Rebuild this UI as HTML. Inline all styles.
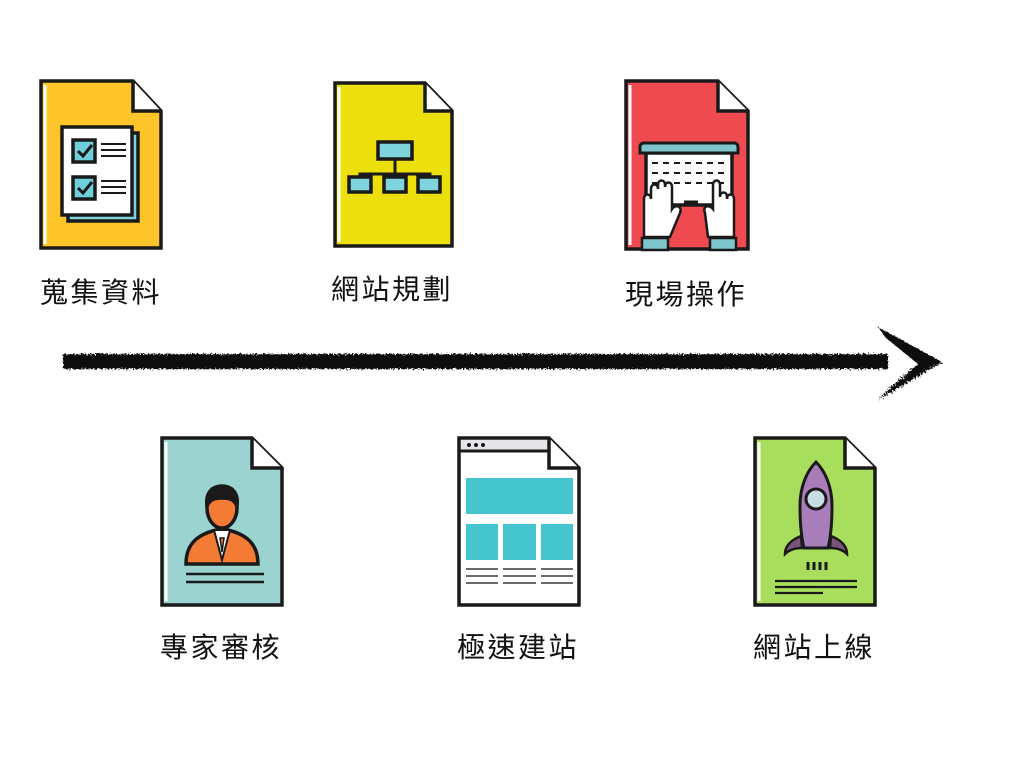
<!DOCTYPE html>
<html><head><meta charset="utf-8"><style>
html,body{margin:0;padding:0;background:#fff;}
svg{display:block}
text{font-family:"Liberation Sans","Noto Sans CJK TC",sans-serif;font-size:28px;fill:#111;letter-spacing:2.5px}
</style></head><body>
<svg width="1024" height="768" viewBox="0 0 1024 768" xmlns="http://www.w3.org/2000/svg">
<defs>
<filter id="rough" x="-5%" y="-50%" width="110%" height="200%">
<feTurbulence type="fractalNoise" baseFrequency="0.6" numOctaves="2" result="n"/>
<feDisplacementMap in="SourceGraphic" in2="n" scale="6"/>
</filter>
</defs>
<g fill="none" stroke="#1a1a1a" stroke-linejoin="miter" stroke-width="3.5">
<g transform="translate(41,81)">
<path d="M0 0H92L120 30V167H0Z" fill="#FDC52A"/><path d="M4 4V163" stroke="#fff" stroke-width="3"/>
<path d="M92 0V30H120" fill="#fff"/>
<rect x="27" y="52" width="70" height="88" fill="#7fd3dd"/>
<rect x="21" y="46" width="70" height="88" fill="#fff"/>
<rect x="32" y="59" width="22" height="22" fill="#6fd0dc"/><path d="M37 70l5 5 9-11" stroke-width="3"/>
<rect x="32" y="96" width="22" height="22" fill="#6fd0dc"/><path d="M37 107l5 5 9-11" stroke-width="3"/>
<path d="M60 63h25M60 69h25M60 75h25M60 100h25M60 106h25M60 112h25" stroke-width="2"/>
</g>
<g transform="translate(335,83)">
<path d="M0 0H90L117 28V163H0Z" fill="#EDDF0B"/><path d="M4 4V159" stroke="#fff" stroke-width="3"/>
<path d="M90 0V28H117" fill="#fff"/>
<rect x="43" y="59" width="34" height="17" fill="#7fd3dd"/>
<path d="M60 76V91M25 103V91H95V103M60 91V103" stroke-width="3"/>
<rect x="14" y="94" width="22" height="15" fill="#7fd3dd"/>
<rect x="49" y="94" width="22" height="15" fill="#7fd3dd"/>
<rect x="83" y="94" width="22" height="15" fill="#7fd3dd"/>
</g>
<g transform="translate(626,81)">
<path d="M0 0H92L122 30V168H0Z" fill="#EE4A50"/><path d="M4 4V164" stroke="#fff" stroke-width="3"/>
<path d="M92 0V30H122" fill="#fff"/>
<rect x="20" y="72" width="86" height="52" fill="#fff"/>
<path d="M14 72V66c0-3 2-4 4-4H108c2 0 4 1 4 4V72Z" fill="#7fc5cc" stroke-width="3"/>
<path d="M26 82h74M26 92h74M26 102h74" stroke-dasharray="6 5" stroke-width="2"/>
<path d="M58 121h14" stroke-width="3"/>
<path d="M18 156V118c0-6 7-6 7 0V108c0-6 7-6 7 0V104c0-6 7-6 7 0V106c0-6 7-6 7 0V128c3-5 11-3 8 4L44 156Z" fill="#fff" stroke-width="2.5"/>
<path d="M16 157h26v12h-26z" fill="#7fc5cc" stroke-width="2.5"/>
<path d="M108 156V118c0-6-7-6-7 0V116c0-6-7-6-7 0V104c0-6-7-6-7 0V128c-4-5-11-3-8 4L82 156Z" fill="#fff" stroke-width="2.5"/>
<path d="M84 157h26v12h-26z" fill="#7fc5cc" stroke-width="2.5"/>
</g>
<g transform="translate(162,438)">
<path d="M0 0H90L120 30V167H0Z" fill="#9BD3D0"/><path d="M4 4V163" stroke="#fff" stroke-width="3"/>
<path d="M90 0V30H120" fill="#fff"/>
<path d="M24 126c0-22 14-30 30-34h12c16 4 30 12 30 34Z" fill="#F47B34"/>
<path d="M52 92l8 30 8-30Z" fill="#fff" stroke-width="2"/>
<path d="M58 100l2 14 2-14Z" fill="#F47B34" stroke-width="1.5"/>
<ellipse cx="60" cy="70" rx="15" ry="20" fill="#F47B34"/>
<path d="M45 68c-2-14 6-20 15-20s17 6 15 20c-3-6-6-8-15-8s-12 2-15 8Z" fill="#1a1a1a"/>
<path d="M24 136h78M24 144h78" stroke-width="2.5"/>
</g>
<g transform="translate(459,438)">
<path d="M0 0H90L120 30V167H0Z" fill="#fff"/>
<path d="M2 2H88V12H2Z" fill="#e6e6ea" stroke="none"/>
<path d="M0 13H90" stroke-width="3"/>
<path d="M90 0V30H120" fill="#fff"/>
<circle cx="10" cy="7" r="2" fill="#1a1a1a" stroke="none"/><circle cx="17" cy="7" r="2" fill="#1a1a1a" stroke="none"/><circle cx="24" cy="7" r="2" fill="#1a1a1a" stroke="none"/>
<rect x="7" y="40" width="107" height="36" fill="#45C5CD" stroke="none"/>
<rect x="7" y="86" width="32" height="36" fill="#45C5CD" stroke="none"/>
<rect x="44" y="86" width="33" height="36" fill="#45C5CD" stroke="none"/>
<rect x="82" y="86" width="32" height="36" fill="#45C5CD" stroke="none"/>
<path d="M7 131h32M44 131h33M82 131h32M7 138h32M44 138h33M82 138h32M7 145h32M44 145h33M82 145h32" stroke="#555" stroke-width="1.8"/>
</g>
<g transform="translate(755,438)">
<path d="M0 0H90L120 30V167H0Z" fill="#A8DE5C"/><path d="M4 4V163" stroke="#fff" stroke-width="3"/>
<path d="M90 0V30H120" fill="#fff"/>
<path d="M46 98c-10 4-16 10-16 18 4-4 10-6 17-6Z" fill="#7a5478" stroke-width="2.5"/>
<path d="M76 98c10 4 16 10 16 18-4-4-10-6-17-6Z" fill="#7a5478" stroke-width="2.5"/>
<path d="M61 24c-10 10-16 26-16 44 0 20 2 34 4 42h24c2-8 4-22 4-42 0-18-6-34-16-44Z" fill="#A97DBA" stroke-width="3"/>
<circle cx="61" cy="61" r="10" fill="#c8dde6" stroke-width="3"/>
<path d="M53 124v8M59 124v8M65 124v8M71 124v8" stroke-width="3"/>
<path d="M20 143h82M20 149h82M20 155h48" stroke-width="2.2"/>
</g>
</g>
<g filter="url(#rough)" fill="#111">
<rect x="63" y="354" width="825" height="15"/>
<path d="M878 327L942 362L878 400L890 388L918 364L886 338Z"/>
</g>
<text x="40" y="302">蒐集資料</text>
<text x="331" y="299">網站規劃</text>
<text x="625" y="304">現場操作</text>
<text x="160" y="657">專家審核</text>
<text x="457" y="657">極速建站</text>
<text x="753" y="657">網站上線</text>
</svg>
</body></html>
